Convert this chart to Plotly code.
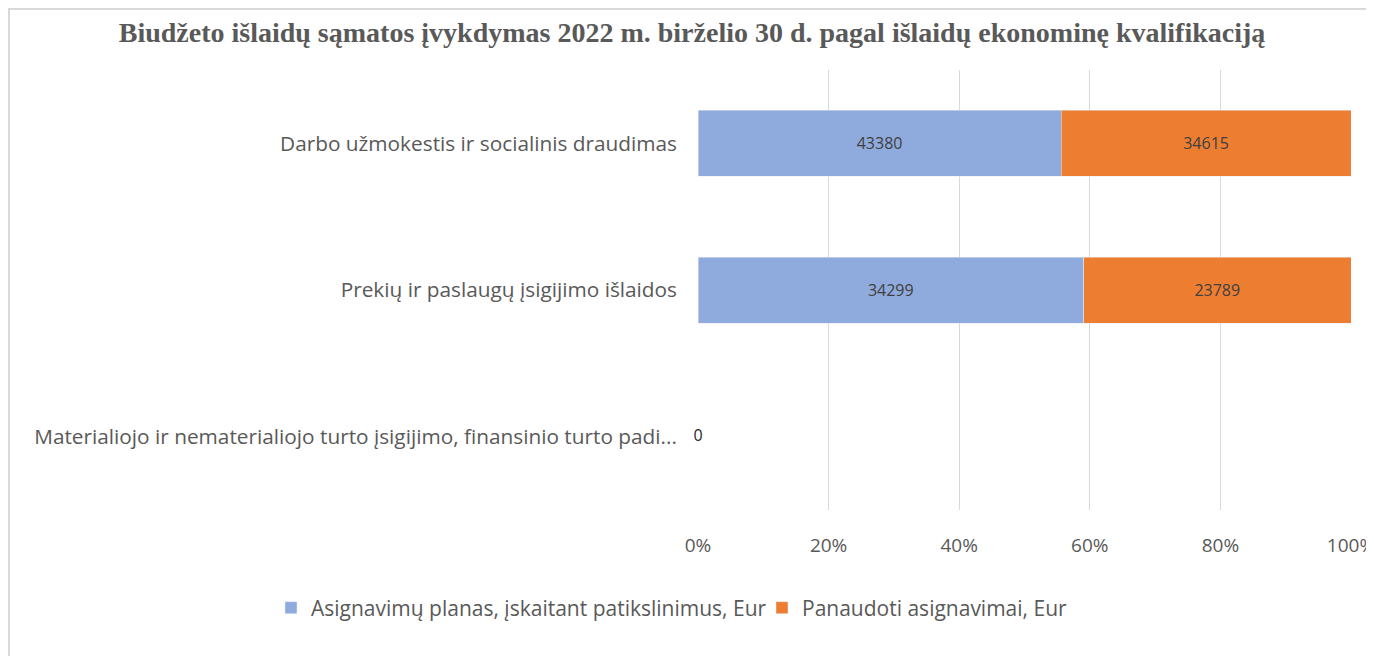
import plotly.graph_objects as go

categories = [
    "Materialiojo ir nematerialiojo turto įsigijimo, finansinio turto padi...",
    "Prekių ir paslaugų įsigijimo išlaidos",
    "Darbo užmokestis ir socialinis draudimas",
]
plan = [0, 34299, 43380]
used = [0, 23789, 34615]
series_names = ["Asignavimų planas, įskaitant patikslinimus, Eur", "Panaudoti asignavimai, Eur"]
tick_vals = [0, 20, 40, 60, 80, 100]
tick_text = ["0%", "20%", "40%", "60%", "80%", "100%"]

# page has 8px body margin: figure origin at screen (8, 8)
W, H = 1366, 648
L, R, T, B = 690, 1343, 62, 502
PW, PH = R - L, B - T

label_font = dict(family="Open Sans", size=16, color="#404040")

fig = go.Figure()
fig.add_trace(go.Bar(
    y=categories, x=plan, name=series_names[0], orientation="h",
    marker_color="#8faadc", width=0.45,
    text=[str(v) if v else "" for v in plan], textposition="inside",
    insidetextanchor="middle", textfont=label_font,
))
fig.add_trace(go.Bar(
    y=categories, x=used, name=series_names[1], orientation="h",
    marker_color="#ed7d31", width=0.45,
    text=[str(v) if v else "" for v in used], textposition="inside",
    insidetextanchor="middle", textfont=label_font,
))
zero_idx = [i for i in range(len(categories)) if plan[i] == 0 and used[i] == 0]
fig.add_trace(go.Scatter(
    y=[categories[i] for i in zero_idx], x=[0 for _ in zero_idx],
    mode="text", text=[str(plan[i]) for i in zero_idx],
    textfont=dict(family="Open Sans", size=16, color="#262626"),
    showlegend=False, hoverinfo="skip", cliponaxis=False,
))

fig.update_layout(
    width=W, height=H,
    barmode="stack", barnorm="percent",
    paper_bgcolor="white", plot_bgcolor="white",
    margin=dict(l=L, r=W - R, t=T, b=H - B, pad=0, autoexpand=False),
    title=dict(
        text="<b>Biudžeto išlaidų sąmatos įvykdymas 2022 m. birželio 30 d. pagal išlaidų ekonominę kvalifikaciją</b>",
        font=dict(family="Liberation Serif", size=28, color="#595959"),
        x=684 / W, xanchor="center", y=1 - 24 / H, yanchor="middle",
        xref="container", yref="container",
    ),
    xaxis=dict(
        range=[0, 100], tickvals=tick_vals, ticktext=tick_text,
        showgrid=True, gridcolor="#d9d9d9", gridwidth=1,
        zeroline=False, showline=False, automargin=False,
        tickfont=dict(family="Open Sans", size=19, color="#595959"),
        ticks="", ticklabelstandoff=22, ticklabeloverflow="allow",
    ),
    yaxis=dict(
        showgrid=False, zeroline=False, showline=False, ticks="", automargin=False,
        tickfont=dict(family="Open Sans", size=20.8, color="#595959"),
        ticklabelstandoff=20,
    ),
    legend=dict(
        orientation="h", xref="paper", x=(263 - L) / PW, xanchor="left",
        yref="paper", y=-(600 - B) / PH, yanchor="middle",
        font=dict(family="Open Sans", size=21, color="#595959"),
        traceorder="normal", itemwidth=30, tracegroupgap=0,
        entrywidth=446, entrywidthmode="pixels",
    ),
    showlegend=True,
    shapes=[dict(
        type="rect", xref="paper", yref="paper",
        x0=(1 - L) / PW, x1=(1363 - L) / PW,
        y0=(B - 660) / PH, y1=(B - 1) / PH,
        line=dict(color="#d9d9d9", width=2), fillcolor="rgba(0,0,0,0)",
        layer="below",
    )],
)

fig.write_html("out.html")
